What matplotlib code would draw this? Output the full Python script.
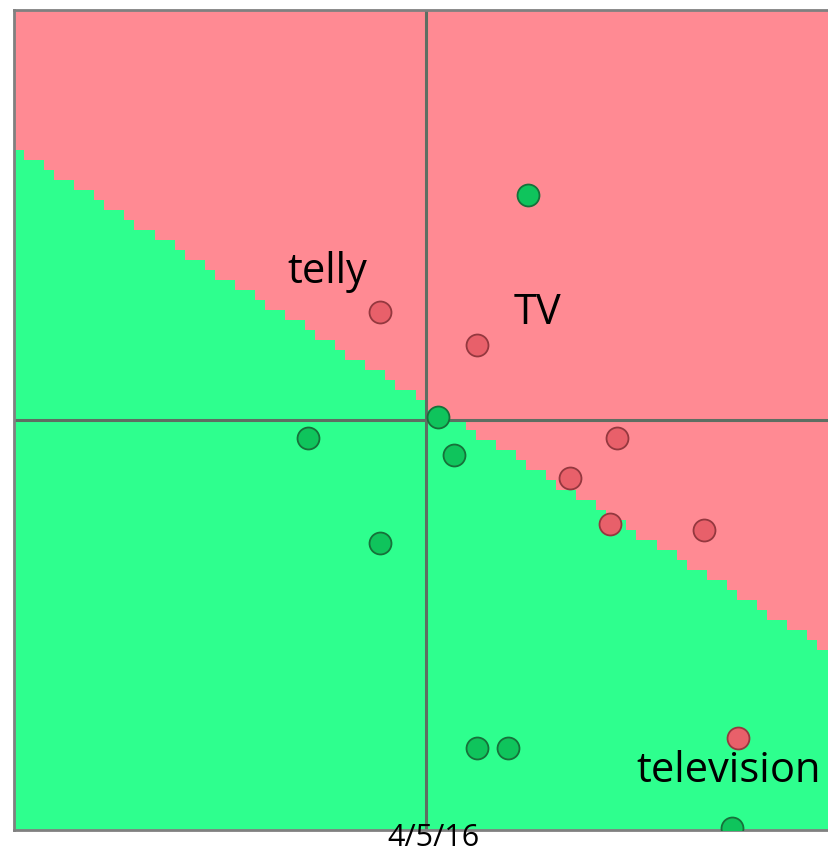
import numpy as np
import matplotlib.pyplot as plt
from matplotlib.colors import ListedColormap

# Data (axes run -1..1, crossing at 0)
green_x = [0.248, 0.029, -0.286, 0.070, -0.112, 0.124, 0.199, 0.745]
green_y = [0.549, 0.007, -0.044, -0.085, -0.300, -0.800, -0.800, -0.995]
red_x = [-0.112, 0.124, 0.464, 0.350, 0.449, 0.677, 0.760]
red_y = [0.263, 0.183, -0.044, -0.141, -0.254, -0.268, -0.776]

# linear decision boundary: y = slope * x + intercept
slope = -0.619
intercept = 0.044

labels = ["telly", "TV", "television"]
label_x = [-0.24, 0.272, 0.735]
label_y = [0.36, 0.26, -0.855]

plt.rcParams["font.family"] = ["Open Sans", "DejaVu Sans"]

fig = plt.figure(figsize=(8.29, 8.56), dpi=100)
ax = fig.add_axes([14 / 829, 26 / 856, 1 - 14 / 829, 820 / 856])

# coarse grid gives the stair-step edge
n = 82
gx = np.linspace(-1, 1, n + 1)
gy = np.linspace(-1, 1, n + 1)
cx = (gx[:-1] + gx[1:]) / 2
cy = (gy[:-1] + gy[1:]) / 2
XX, YY = np.meshgrid(cx, cy)
Z = (YY > slope * XX + intercept).astype(float)
cmap = ListedColormap(["#2eff8e", "#ff8a93"])
ax.pcolormesh(gx, gy, Z, cmap=cmap, vmin=0, vmax=1, shading="flat")

ax.axhline(0, color="#5e6e62", lw=2.2, zorder=2)
ax.axvline(0, color="#5e6e62", lw=2.2, zorder=2)

ax.scatter(green_x, green_y, s=250, c="#0fc45c", edgecolors="#17703a",
           linewidths=1.3, zorder=3)
ax.scatter(red_x, red_y, s=250, c="#e8606a", edgecolors="#94383f",
           linewidths=1.3, zorder=3)

for t, x, y in zip(labels, label_x, label_y):
    ax.text(x, y, t, fontsize=30, ha="center", va="center", zorder=4)

ax.set_xlim(-1, 0.98)
ax.set_ylim(-1, 1)
ax.set_xticks([])
ax.set_yticks([])
for side in ["left", "top", "bottom"]:
    ax.spines[side].set_color("#808080")
    ax.spines[side].set_linewidth(2)
ax.spines["right"].set_visible(False)

fig.text(434 / 829, 1 - 846 / 856, "4/5/16", fontsize=22, ha="center",
         va="baseline")

fig.savefig("out.png", dpi=100)
